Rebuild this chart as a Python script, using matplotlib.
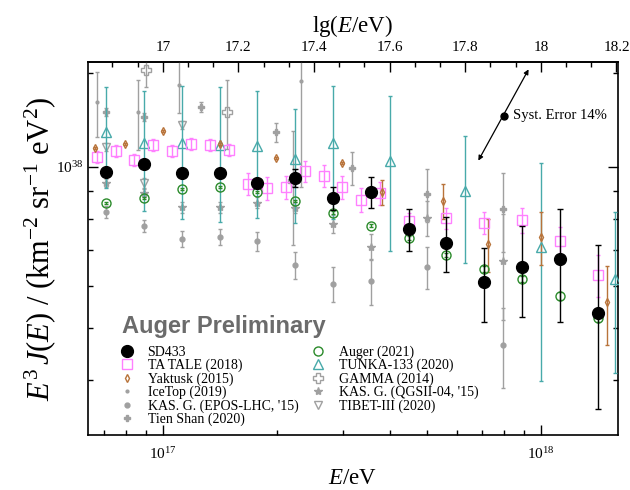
import numpy as np
import matplotlib.pyplot as plt
from matplotlib.lines import Line2D
from matplotlib.ticker import FixedLocator, NullFormatter, LogFormatterSciNotation, FuncFormatter

plt.rcParams['font.family'] = ['Liberation Serif', 'DejaVu Serif']
plt.rcParams['mathtext.fontset'] = 'custom'
plt.rcParams['mathtext.rm'] = 'Liberation Serif'
plt.rcParams['mathtext.it'] = 'Liberation Serif:italic'
plt.rcParams['mathtext.bf'] = 'Liberation Serif:bold'

UNIT = 1e38  # E^3 J values below are in units of 1e38 km^-2 sr^-1 eV^2

# SD433
lg_sd = [16.85, 16.95, 17.05, 17.15, 17.25, 17.35, 17.45, 17.55, 17.65, 17.75, 17.85, 17.95, 18.05, 18.15]
j_sd = [0.979, 1.013, 0.974, 0.974, 0.933, 0.954, 0.875, 0.898, 0.766, 0.721, 0.610, 0.651, 0.674, 0.534]
e_sd = [0.012, 0.012, 0.012, 0.012, 0.018, 0.037, 0.044, 0.058, 0.068, 0.084, 0.096, 0.126, 0.16, 0.18]

# TA TALE (2018)
lg_ta = [16.825, 16.875, 16.925, 16.975, 17.025, 17.075, 17.125, 17.175, 17.225, 17.275, 17.325,
         17.375, 17.425, 17.475, 17.525, 17.575, 17.65, 17.75, 17.85, 17.95, 18.05, 18.15]
j_ta = [1.044, 1.071, 1.031, 1.099, 1.071, 1.104, 1.099, 1.076, 0.930, 0.914, 0.918,
        0.983, 0.962, 0.918, 0.868, 0.894, 0.793, 0.803, 0.786, 0.796, 0.727, 0.629]
e_ta = [0.028] * 8 + [0.045] * 8 + [0.027, 0.037, 0.037, 0.043, 0.045, 0.057]

# Yaktusk (2015)
lg_yak = [16.82, 16.90, 17.00, 17.15, 17.30, 17.475, 17.58, 17.74, 17.86, 18.00, 18.175]
j_yak = [1.085, 1.104, 1.167, 1.104, 1.039, 1.017, 0.898, 0.864, 0.718, 0.740, 0.560]
e_yak = [0.005, 0.005, 0.005, 0.005, 0.005, 0.005, 0.048, 0.066, 0.081, 0.084, 0.094]

# IceTop (2019)
lg_ice = [16.825, 16.934, 17.042, 17.365]
j_ice = [1.322, 1.266, 1.422, 1.447]
e_ice = [0.185, 0.19, 0.16, 0.53]

# KAS. G. (EPOS-LHC, '15)
lg_epos = [16.85, 16.95, 17.05, 17.15, 17.25, 17.35, 17.45, 17.55, 17.70, 17.90]
j_epos = [0.824, 0.776, 0.734, 0.740, 0.727, 0.656, 0.605, 0.613, 0.651, 0.466]
e_epos = [0.02, 0.02, 0.025, 0.025, 0.03, 0.037, 0.045, 0.06, 0.058, 0.08]

# Tien Shan (2020)
lg_ts = [16.85, 16.95, 17.10, 17.30, 17.50, 17.70, 17.90]
j_ts = [1.266, 1.240, 1.294, 1.162, 0.996, 0.890, 0.835]
e_ts = [0.02, 0.02, 0.03, 0.048, 0.07, 0.10, 0.14]

# Auger (2021)
lg_aug = lg_sd
j_aug = [0.857, 0.875, 0.910, 0.918, 0.898, 0.864, 0.821, 0.776, 0.737, 0.685, 0.645, 0.618, 0.574, 0.523]
e_aug = [0.005] * 10 + [0.008, 0.008, 0.01, 0.01]

# TUNKA-133 (2020)
lg_tun = [16.85, 16.95, 17.05, 17.15, 17.25, 17.35, 17.45, 17.60, 17.80, 18.00, 18.195]
j_tun = [1.162, 1.109, 1.109, 1.099, 1.094, 1.035, 1.109, 1.026, 0.902, 0.709, 0.618]
e_tun = [0.25, 0.28, 0.31, 0.31, 0.29, 0.25, 0.31, 0.33, 0.24, 0.31, 0.205]

# GAMMA (2014)
lg_gam = [16.955, 17.169, 17.344]
j_gam = [1.517, 1.266, 0.94]
e_gam = [0.107, 0.185, 0.225]

# KAS. G. (QGSII-04, '15)
lg_qgs = [16.85, 16.95, 17.05, 17.15, 17.25, 17.35, 17.45, 17.55, 17.70, 17.90]
j_qgs = [0.934, 0.894, 0.842, 0.842, 0.857, 0.839, 0.783, 0.709, 0.803, 0.668]
e_qgs = [0.015, 0.015, 0.02, 0.02, 0.02, 0.02, 0.03, 0.04, 0.06, 0.15]

# TIBET-III (2020)
lg_tib = [16.85, 16.95, 17.05]
j_tib = [1.090, 0.934, 1.198]
e_tib = [0.02, 0.02, 0.02]

# systematic error arrow (lg E, E^3 J / 1e38)
syst_lg = [17.831, 17.971]
syst_j = [1.017, 1.537]
syst_dot = (17.902, 1.245)

GREY = '#a0a0a0'
C_TA = '#ff80ff'
C_YAK = '#b8733a'
C_AUG = '#2a8a2a'
C_TUN = '#48aaaa'


fig = plt.figure(figsize=(6.3, 4.9), dpi=100)
ax = fig.add_axes([88 / 630, 55 / 490, 530 / 630, 373 / 490])
ax.set_xscale('log')
ax.set_yscale('log')


def draw(lg, val, err, marker, color, ms, filled=True, capsize=1.5, lw=1.0, z=2):
    x = 10 ** np.asarray(lg)
    y = np.asarray(val) * UNIT
    ye = np.asarray(err) * UNIT
    ax.errorbar(x, y, yerr=ye, fmt=marker, ms=ms, color=color,
                mfc=color if filled else 'none', mec=color, mew=1.0,
                ecolor=color, elinewidth=lw, capsize=capsize, capthick=lw, zorder=z)
    return Line2D([], [], ls='none', marker=marker, ms=ms, color=color,
                  mfc=color if filled else 'none', mec=color, mew=1.0)


h_ice = draw(lg_ice, j_ice, e_ice, '.', GREY, 4)
h_epos = draw(lg_epos, j_epos, e_epos, 'o', GREY, 3.5)
h_ts = draw(lg_ts, j_ts, e_ts, 'P', GREY, 4)
h_gam = draw(lg_gam, j_gam, e_gam, 'P', GREY, 7, filled=False)
h_qgs = draw(lg_qgs, j_qgs, e_qgs, '*', GREY, 6)
h_tib = draw(lg_tib, j_tib, e_tib, 'v', GREY, 6, filled=False)
h_tun = draw(lg_tun, j_tun, e_tun, '^', C_TUN, 6.5, filled=False, z=3)
h_ta = draw(lg_ta, j_ta, e_ta, 's', C_TA, 7, filled=False, z=3)
h_yak = draw(lg_yak, j_yak, e_yak, 'd', C_YAK, 4, filled=False, z=3)
h_aug = draw(lg_aug, j_aug, e_aug, 'o', C_AUG, 6.5, filled=False, z=4)
h_sd = draw(lg_sd, j_sd, e_sd, 'o', 'black', 8.5, capsize=2.5, z=5)

ax.set_xlim(10 ** 16.802, 10 ** 18.204)
ax.set_ylim(3.16e37, 1.57e38)

# systematic error annotation
ax.annotate('', xy=(10 ** syst_lg[1], syst_j[1] * UNIT), xytext=(10 ** syst_lg[0], syst_j[0] * UNIT),
            arrowprops=dict(arrowstyle='<|-|>', color='black', lw=0.9, mutation_scale=7))
ax.plot(10 ** syst_dot[0], syst_dot[1] * UNIT, 'o', color='black', ms=5, zorder=6)
ax.text(10 ** (syst_dot[0] + 0.025), syst_dot[1] * UNIT, 'Syst. Error 14%', fontsize=10.5,
        va='center', ha='left')

ax.text(0.064, 0.292, 'Auger Preliminary', transform=ax.transAxes, fontsize=17,
        fontweight='bold', color='#6b6b6b', family=['Liberation Sans', 'DejaVu Sans'],
        va='center', ha='left')

# ticks
ax.xaxis.set_major_locator(FixedLocator([1e17, 1e18]))
ax.xaxis.set_minor_locator(FixedLocator([k * 1e16 for k in (7, 8, 9)] + [k * 1e17 for k in range(2, 10)]))
ax.xaxis.set_major_formatter(LogFormatterSciNotation())
ax.xaxis.set_minor_formatter(NullFormatter())
ax.yaxis.set_major_locator(FixedLocator([1e38]))
ax.yaxis.set_minor_locator(FixedLocator([k * 1e37 for k in range(4, 10)] + [1.5e38]))
ax.yaxis.set_major_formatter(LogFormatterSciNotation())
ax.yaxis.set_minor_formatter(NullFormatter())
ax.tick_params(which='both', direction='in', labelsize=11, top=False, right=True)
ax.tick_params(which='major', length=7, width=1.0)
ax.tick_params(which='minor', length=3.5, width=1.0)
ax.tick_params(axis='x', pad=8)
for s in ax.spines.values():
    s.set_linewidth(1.2)

top = ax.secondary_xaxis('top', functions=(np.log10, lambda v: 10 ** v))
top.xaxis.set_major_locator(FixedLocator([17.0, 17.2, 17.4, 17.6, 17.8, 18.0, 18.2]))
top.xaxis.set_minor_locator(FixedLocator(list(np.arange(16.8, 18.25, 0.2 / 3))))
top.xaxis.set_major_formatter(FuncFormatter(lambda v, p: '%g' % round(v, 1)))
top.xaxis.set_minor_formatter(NullFormatter())
top.tick_params(which='both', direction='in', labelsize=11, pad=6)
top.tick_params(which='major', length=7, width=1.0)
top.tick_params(which='minor', length=3.5, width=1.0)
top.spines['top'].set_linewidth(1.2)
top.set_xlabel('lg($E$/eV)', fontsize=16.5, labelpad=6)

ax.set_xlabel('$E$/eV', fontsize=16.5, labelpad=4)
ax.set_ylabel('$E^3\\,J(E)$ / (km$^{-2}$ sr$^{-1}$ eV$^2$)', fontsize=22, labelpad=-2)

handles = [h_sd, h_ta, h_yak, h_ice, h_epos, h_ts, h_aug, h_tun, h_gam, h_qgs, h_tib]
labels = ['SD433', 'TA TALE (2018)', 'Yaktusk (2015)', 'IceTop (2019)', "KAS. G. (EPOS-LHC, '15)",
          'Tien Shan (2020)', 'Auger (2021)', 'TUNKA-133 (2020)', 'GAMMA (2014)',
          "KAS. G. (QGSII-04, '15)", 'TIBET-III (2020)']
ax.legend(handles, labels, ncol=2, loc='upper left', bbox_to_anchor=(0.06, 0.24),
          frameon=False, fontsize=10, handlelength=1.0, handletextpad=1.0,
          columnspacing=0.9, labelspacing=0.0, borderpad=0, borderaxespad=0)

fig.savefig('out.png', dpi=100)
